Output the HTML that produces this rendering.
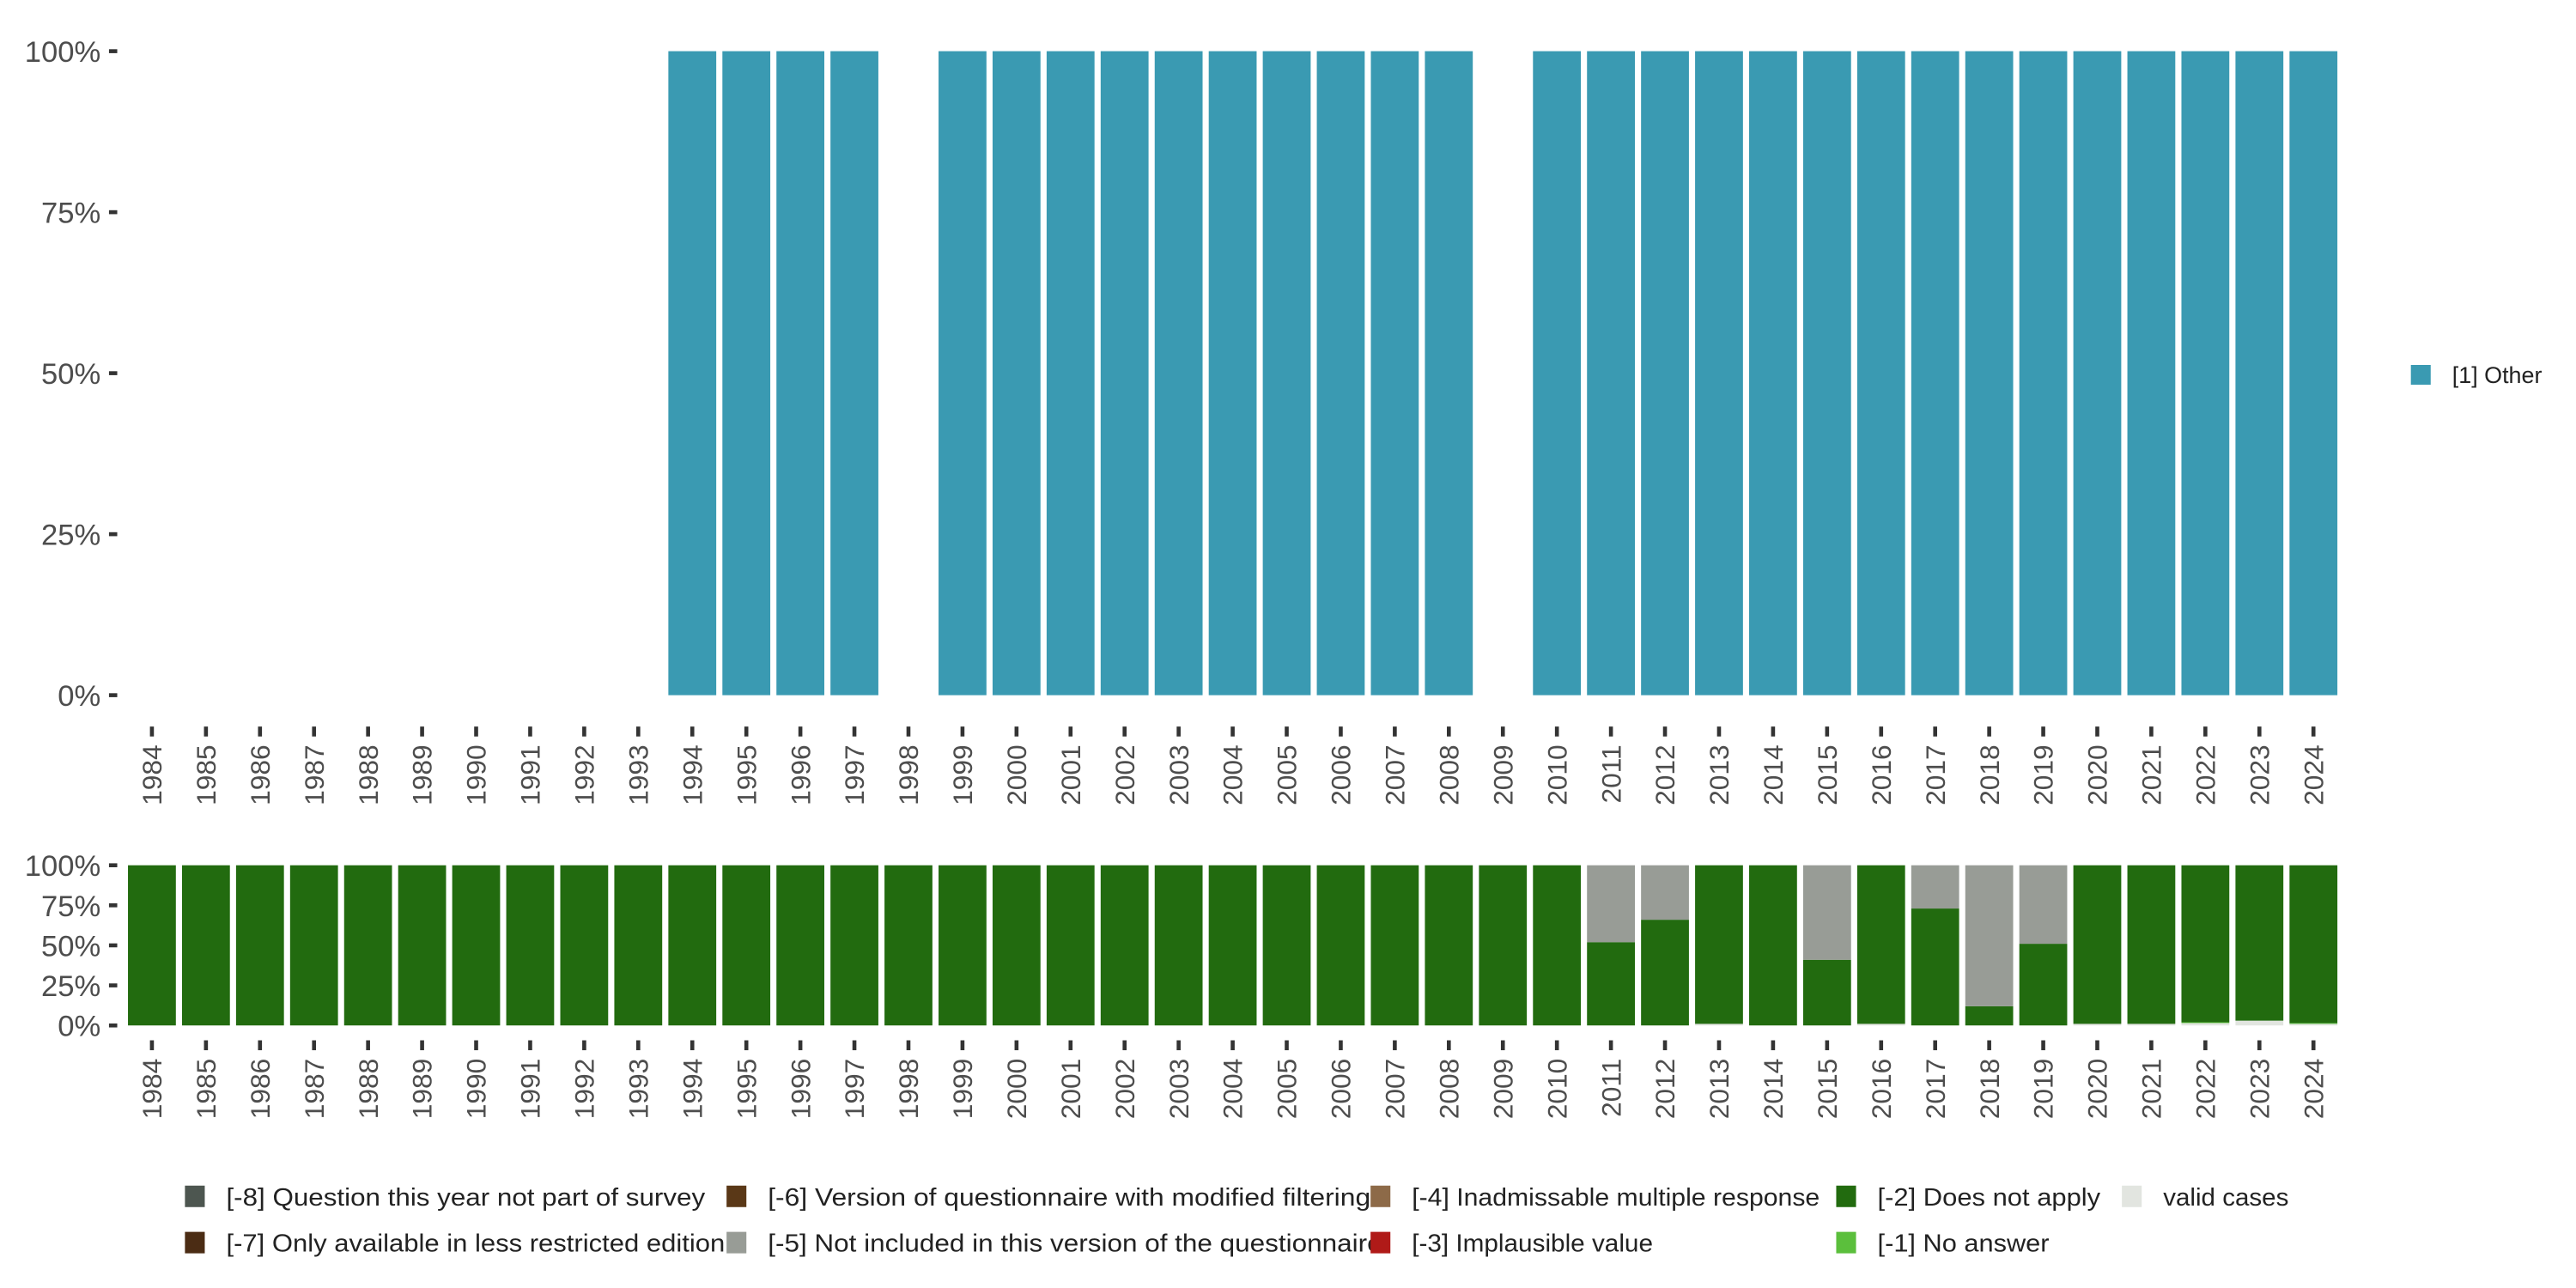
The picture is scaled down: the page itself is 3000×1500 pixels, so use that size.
<!DOCTYPE html>
<html><head><meta charset="utf-8"><style>
html,body{margin:0;padding:0;background:#fff;width:3000px;height:1500px;overflow:hidden}
svg{display:block}
text{font-family:"Liberation Sans",sans-serif}
</style></head><body>
<svg id="chart" width="3000" height="1500" viewBox="0 0 1560 780" xmlns="http://www.w3.org/2000/svg">
<g id="top"></g>
<g id="bot"></g>
<g id="legend"></g>
</svg>
<script>
const years = [];
for (let y = 1984; y <= 2024; y++) years.push(String(y));
const topOther = [0,0,0,0,0,0,0,0,0,0,100,100,100,100,0,100,100,100,100,100,100,100,100,100,100,0,100,100,100,100,100,100,100,100,100,100,100,100,100,100,100];
const botDoesNotApply = [100,100,100,100,100,100,100,100,100,100,100,100,100,100,100,100,100,100,100,100,100,100,100,100,100,100,100,52,66,99,100,41,99,73,12,51,99,99,98,97,98.5];
const botNotIncluded = [0,0,0,0,0,0,0,0,0,0,0,0,0,0,0,0,0,0,0,0,0,0,0,0,0,0,0,48,34,0,0,59,0,27,88,49,0,0,0,0,0];
const botNoAnswer = [0,0,0,0,0,0,0,0,0,0,0,0,0,0,0,0,0,0,0,0,0,0,0,0,0,0,0,0,0,0,0,0,0,0,0,0,0,0,0.5,0,0.5];
const botValid = [0,0,0,0,0,0,0,0,0,0,0,0,0,0,0,0,0,0,0,0,0,0,0,0,0,0,0,0,0,1,0,0,1,0,0,0,1,1,1.5,3,1];
const yTicks = [0,25,50,75,100];
const yTickLabels = ["0%","25%","50%","75%","100%"];

const NS = "http://www.w3.org/2000/svg";
function mk(tag, attrs, parent, txt){
  const e = document.createElementNS(NS, tag);
  for (const k in attrs) e.setAttribute(k, attrs[k]);
  if (txt !== undefined) e.textContent = txt;
  parent.appendChild(e); return e;
}
const x0 = 92, step = (1401-92)/40, bw = 29;
const xc = i => x0 + i*step;

function axes(g, y0, y100, tickY, labY, fs){
  const ys = v => y0 + (y100-y0)*v/100;
  yTicks.forEach((t,i)=>{
    const tk = mk('line',{x1:66,x2:71,y1:ys(t),y2:ys(t),stroke:'#333','stroke-width':2.4},g);
    
    
    const lb = mk('text',{x:61,y:ys(t)+fs*0.36,'text-anchor':'end','font-size':fs,fill:'#4d4d4d'},g,yTickLabels[i]);
    
    
  });
  years.forEach((yr,i)=>{
    const tk = mk('line',{x1:xc(i),x2:xc(i),y1:tickY,y2:tickY+6,stroke:'#333','stroke-width':2.4},g);
    
    
    const lb = mk('text',{x:0,y:0,'text-anchor':'end','font-size':16.5,fill:'#4d4d4d',transform:`translate(${xc(i)+5.8},${labY}) rotate(-90)`},g,yr);
    
    
  });
  return ys;
}

const gT = document.getElementById('top');
const ysT = axes(gT, 421, 31, 440, 451, 18);
topOther.forEach((v,i)=>{
  if (v<=0) return;
  const r = mk('rect',{x:xc(i)-bw/2,y:ysT(v),width:bw,height:ysT(0)-ysT(v),fill:'#3a9ab2'},gT);
  
  
});

const gB = document.getElementById('bot');
const ysB = axes(gB, 621, 524, 630, 641, 18);
const series = [
  {d:botValid,c:'#e2e5e0',n:'valid'},
  {d:botNoAnswer,c:'#5bbf3c',n:'no-answer'},
  {d:botDoesNotApply,c:'#226b0f',n:'does-not-apply'},
  {d:botNotIncluded,c:'#989c96',n:'not-included'}
];
years.forEach((yr,i)=>{
  let cum = 0;
  series.forEach(s=>{
    const v = s.d[i]; if (v<=0) return;
    const r = mk('rect',{x:xc(i)-bw/2,y:ysB(cum+v),width:bw,height:ysB(cum)-ysB(cum+v),fill:s.c},gB);
    
    
    cum += v;
  });
});

const gL = document.getElementById('legend');
const rs = mk('rect',{x:1460,y:221,width:12,height:12,fill:'#3a9ab2'},gL);


const rt = mk('text',{x:1485,y:232,'font-size':14,fill:'#222'},gL,'[1] Other');



const legItems = [
  [112,718,'#4d5650','[-8] Question this year not part of survey',290],
  [440,718,'#5a3817','[-6] Version of questionnaire with modified filtering',365],
  [830,718,'#8d6a48','[-4] Inadmissable multiple response',247],
  [1112,718,'#226b0f','[-2] Does not apply',135],
  [1285,718,'#e2e5e0','valid cases',76],
  [112,746,'#4b2c14','[-7] Only available in less restricted edition',302],
  [440,746,'#989c96','[-5] Not included in this version of the questionnaire',372],
  [830,746,'#b01a18','[-3] Implausible value',146],
  [1112,746,'#5bbf3c','[-1] No answer',104]
];
legItems.forEach(it=>{
  const s = mk('rect',{x:it[0],y:it[1],width:12,height:13,fill:it[2]},gL);
  
  
  const t = mk('text',{x:it[0]+25,y:it[1]+12,'font-size':15,fill:'#222',textLength:it[4],lengthAdjust:'spacingAndGlyphs'},gL,it[3]);
  
  
});
</script>
</body></html>
